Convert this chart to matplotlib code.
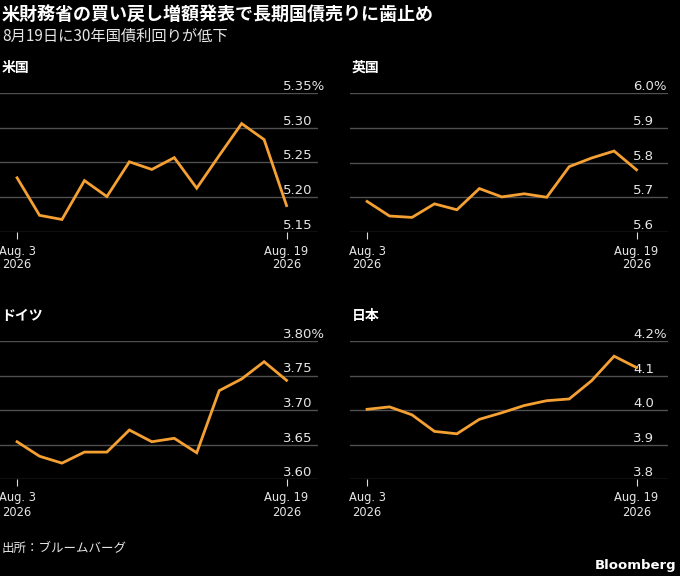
import matplotlib
matplotlib.use("Agg")
import matplotlib.pyplot as plt
import numpy as np

plt.rcParams['font.family'] = ['Noto Sans CJK JP', 'DejaVu Sans']

dates = ["Aug 3","Aug 4","Aug 5","Aug 6","Aug 7","Aug 10","Aug 11","Aug 12","Aug 13","Aug 14","Aug 17","Aug 18","Aug 19"]
us = [5.228,5.174,5.168,5.224,5.201,5.251,5.240,5.257,5.213,5.260,5.306,5.283,5.188]
uk = [5.688,5.646,5.642,5.681,5.664,5.725,5.701,5.710,5.700,5.788,5.813,5.833,5.779]
de = [3.654,3.633,3.623,3.639,3.639,3.671,3.654,3.659,3.638,3.728,3.745,3.770,3.743]
jp = [4.002,4.009,3.986,3.938,3.931,3.973,3.992,4.013,4.027,4.032,4.085,4.156,4.123]

panels = [
    ("米国", us, [5.15,5.20,5.25,5.30,5.35], "{:.2f}", (0/680, 1-232/576, 318/680, 139/576)),
    ("英国", uk, [5.6,5.7,5.8,5.9,6.0], "{:.1f}", (350/680, 1-232/576, 318/680, 139/576)),
    ("ドイツ", de, [3.60,3.65,3.70,3.75,3.80], "{:.2f}", (0/680, 1-479/576, 318/680, 138/576)),
    ("日本", jp, [3.8,3.9,4.0,4.1,4.2], "{:.1f}", (350/680, 1-479/576, 318/680, 138/576)),
]

fig = plt.figure(figsize=(6.8,5.76), dpi=100, facecolor='black')
orange = '#f5a033'
grid = '#505050'

for title, vals, ticks, fmt, rect in panels:
    ax = fig.add_axes(rect)
    ax.set_facecolor('black')
    x = np.arange(len(vals))
    ax.plot(x, vals, color=orange, lw=2, solid_joinstyle='miter', clip_on=False)
    ax.set_ylim(ticks[0], ticks[-1])
    ax.set_xlim(-0.76, 13.4)
    for s in ax.spines.values():
        s.set_visible(False)
    for t in ticks:
        ax.axhline(t, color=grid, lw=1, zorder=0)
    ax.yaxis.tick_right()
    ax.set_yticks(ticks)
    labels = [fmt.format(t) for t in ticks]
    labels[-1] += "%"
    ax.set_yticklabels(labels, color='#e6e6e6', fontsize=9.5, family=['DejaVu Sans'])
    ax.tick_params(axis='y', length=0, pad=-25)
    for lab in ax.get_yticklabels():
        lab.set_horizontalalignment('left')
        lab.set_verticalalignment('bottom')
    ax.set_xticks([0, 12])
    ax.set_xticklabels([dates[0].replace("Aug", "Aug.") + "\n2026", dates[-1].replace("Aug", "Aug.") + "\n2026"],
                       color='#e6e6e6', fontsize=8.3, family=['DejaVu Sans'], linespacing=1.1)
    ax.tick_params(axis='x', length=5, color='#dddddd', direction='out', pad=4)
    ax.text(0.005, 1.13, title, transform=ax.transAxes, color='white',
            fontsize=10, fontweight='bold', ha='left', va='bottom')

fig.text(0.003, 1-15/576, "米財務省の買い戻し増額発表で長期国債売りに歯止め", color='white', fontsize=13,
         fontweight='bold', va='center', ha='left')
fig.text(0.003, 1-36/576, "8月19日に30年国債利回りが低下", color='#e6e6e6', fontsize=11, va='center', ha='left')
fig.text(0.003, 1-548/576, "出所：ブルームバーグ", color='#e6e6e6', fontsize=9, va='center', ha='left')
fig.text(0.995, 1-566/576, "Bloomberg", color='white', fontsize=9.5, fontweight='bold', va='center', ha='right',
         family=['DejaVu Sans'])

fig.savefig("out.png", dpi=100, facecolor='black')
